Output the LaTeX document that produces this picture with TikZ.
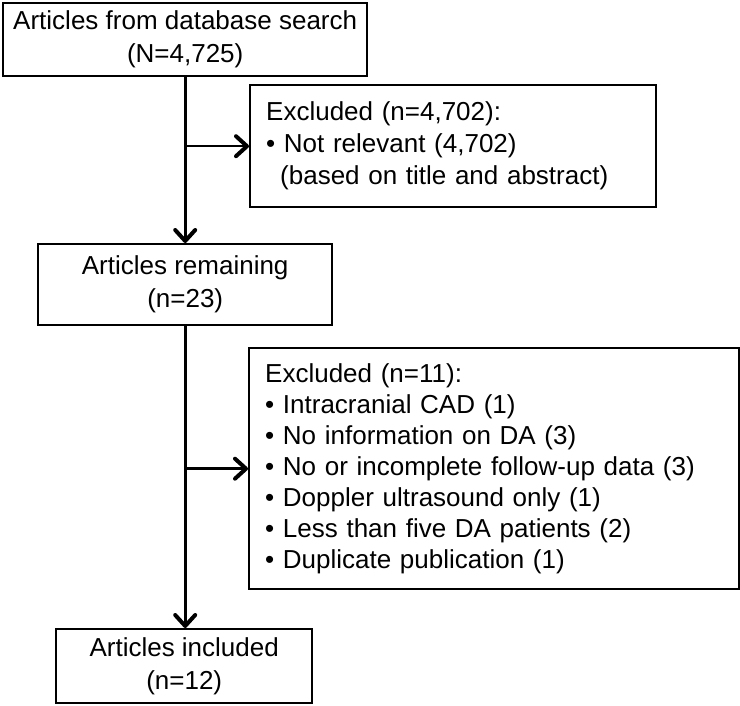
\documentclass[tikz,border=0pt]{standalone}
\usepackage{fontspec}
\setmainfont{Liberation Sans}
\usetikzlibrary{arrows.meta}
\begin{document}
\begin{tikzpicture}[x=1pt,y=-1pt,
  box/.style={draw=black, line width=2.4pt, anchor=north west, inner ysep=0pt,
    font=\fontsize{26}{33}\selectfont},
  cbox/.style={box, align=center, inner xsep=0pt},
  lbox/.style={box, align=left, inner xsep=16pt},
  arr/.style={line width=2.6pt, -{Straight Barb[length=11pt,width=20pt,line width=4pt,round]}}
]
\useasboundingbox (0,0) rectangle (740,706);
\node[cbox, minimum width=364pt, minimum height=73pt] (b1) at (2,2)
  {Articles from database search\\(N=4,725)};
\node[lbox, text width=374pt, minimum height=122pt,
  font=\fontsize{26}{32}\selectfont] (b2) at (249,84)
  {Excluded (n=4,702):\\\textbullet\ Not relevant (4,702)\\\hspace*{14pt}(based on title and abstract)};
\node[cbox, minimum width=294pt, minimum height=81pt] (b3) at (37,243)
  {Articles remaining\\(n=23)};
\node[lbox, text width=458pt, minimum height=241pt,
  font=\fontsize{26}{31}\selectfont] (b4) at (248,347)
  {Excluded (n=11):\\
   \textbullet\ Intracranial CAD (1)\\
   \textbullet\ No information on DA (3)\\
   \textbullet\ No or incomplete follow-up data (3)\\
   \textbullet\ Doppler ultrasound only (1)\\
   \textbullet\ Less than five DA patients (2)\\
   \textbullet\ Duplicate publication (1)};
\node[cbox, minimum width=256pt, minimum height=74pt] (b5) at (55,628)
  {Articles included\\(n=12)};
\draw[arr] (b1.south) -- (b1.south |- b3.north);
\draw[arr] (b1.south |- b2.west) -- (b2.west);
\draw[arr] (b3.south) -- (b3.south |- b5.north);
\draw[arr] (b3.south |- b4.west) -- (b4.west);
\end{tikzpicture}
\end{document}
